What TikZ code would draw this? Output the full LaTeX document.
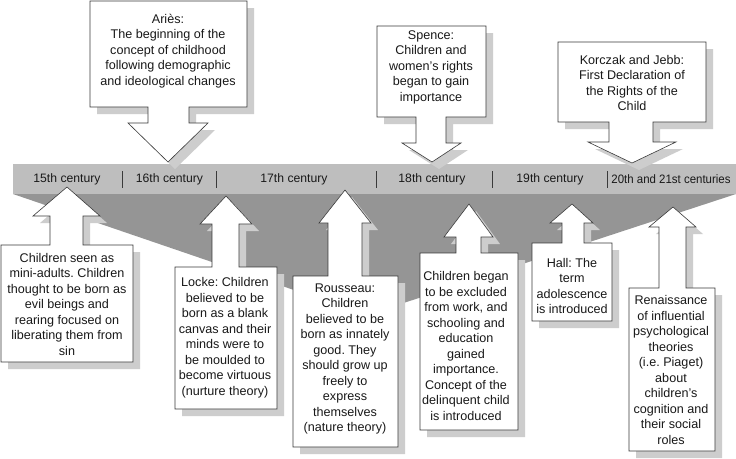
\documentclass[tikz,border=0pt]{standalone}
\usepackage{fontspec}
\setmainfont{Liberation Sans}
\frenchspacing
\definecolor{barc}{HTML}{BEBEBE}
\definecolor{darkc}{HTML}{959595}
\definecolor{shadowc}{HTML}{CDCDCD}
\definecolor{linec}{HTML}{3A3A3A}
\newcommand{\callshape}[1]{\fill[shadowc,shift={(7,7)}] #1; \filldraw[callc] #1;}
\begin{document}
\begin{tikzpicture}[x=1pt,y=-1pt,
  callc/.style={fill=white,draw=linec,line width=0.6pt,line join=miter},
  txt/.style={align=center,inner sep=0pt,font=\fontsize{12.6}{15.5}\selectfont\frenchspacing,text=black!90},
  barlbl/.style={inner sep=0pt,font=\fontsize{12.2}{14}\selectfont,text=black!90},
  sepline/.style={draw=linec,line width=0.7pt}]
\useasboundingbox (0,0) rectangle (736,458);
\fill[white] (0,0) rectangle (736,458);
% timeline bar and wedge
\fill[barc] (13,164) rectangle (736,194);
\fill[darkc] (13,194) -- (736,194) -- (367,315) -- cycle;
% top callouts
\callshape{(90,1) -- (247,1) -- (247,107) -- (189,107) -- (189,123) -- (208,123) -- (168,162) -- (128,123) -- (148,123) -- (148,107) -- (90,107) -- cycle}
\callshape{(377,26) -- (486,26) -- (486,117) -- (446,117) -- (446,143) -- (461,143) -- (432,162) -- (402,143) -- (416,143) -- (416,117) -- (377,117) -- cycle}
\callshape{(558,42) -- (706,42) -- (706,122) -- (653,122) -- (653,142) -- (676,142) -- (632,163) -- (588,142) -- (609,142) -- (609,122) -- (558,122) -- cycle}
% bottom callouts
\callshape{(67,187) -- (100,216) -- (83,216) -- (83,245) -- (133,245) -- (133,362) -- (1,362) -- (1,245) -- (50,245) -- (50,216) -- (33,216) -- cycle}
\callshape{(226,196) -- (252,224) -- (239,224) -- (239,267) -- (277,267) -- (277,409) -- (175,409) -- (175,267) -- (212,267) -- (212,224) -- (200,224) -- cycle}
\callshape{(345,190) -- (371,223) -- (362,223) -- (362,276) -- (398,276) -- (398,447) -- (293,447) -- (293,276) -- (328,276) -- (328,223) -- (319,223) -- cycle}
\callshape{(469,204) -- (493,237) -- (481,237) -- (481,253) -- (518,253) -- (518,430) -- (420,430) -- (420,253) -- (456,253) -- (456,237) -- (444,237) -- cycle}
\callshape{(572,204) -- (593,223) -- (584,223) -- (584,243) -- (612,243) -- (612,321) -- (532,321) -- (532,243) -- (562,243) -- (562,223) -- (550,223) -- cycle}
\callshape{(673,207) -- (696,227) -- (686,227) -- (686,288) -- (715,288) -- (715,451) -- (629,451) -- (629,288) -- (659,288) -- (659,227) -- (649,227) -- cycle}
% bar labels and separators
\node[barlbl] (c15) at (67,179) {15th century};
\node[barlbl] (c16) at (169.5,179) {16th century};
\node[barlbl] (c17) at (294,179) {17th century};
\node[barlbl] (c18) at (432,179) {18th century};
\node[barlbl] (c19) at (550,179) {19th century};
\node[barlbl] (c20) at (671,179) {\scalebox{0.94}[1]{20th and 21st centuries}};
\foreach \sx in {122,216,376,492,607} \draw[sepline] (\sx,171) -- (\sx,188);
% texts
\node[txt] (aries) at (168,51) {Ariès:\\The beginning of the\\concept of childhood\\following demographic\\and ideological changes};
\node[txt] (spence) at (431,67) {Spence:\\Children and\\women’s rights\\began to gain\\importance};
\node[txt] (korczak) at (632,83) {Korczak and Jebb:\\First Declaration of\\the Rights of the\\Child};
\node[txt] (c15t) at (67,304) {Children seen as\\mini-adults. Children\\thought to be born as\\evil beings and\\rearing focused on\\liberating them from\\sin};
\node[txt] (locke) at (225,337.5) {Locke: Children\\believed to be\\born as a blank\\canvas and their\\minds were to\\be moulded to\\become virtuous\\(nurture theory)};
\node[txt] (rousseau) at (345,359) {Rousseau:\\Children\\believed to be\\born as innately\\good. They\\should grow up\\freely to\\express\\themselves\\(nature theory)};
\node[txt] (c18t) at (466,346) {Children began\\to be excluded\\from work, and\\schooling and\\education\\gained\\importance.\\Concept of the\\delinquent child\\is introduced};
\node[txt] (hall) at (572,286) {Hall: The\\term\\adolescence\\is introduced};
\node[txt] (renais) at (671,370) {Renaissance\\of influential\\psychological\\theories\\(i.e. Piaget)\\about\\children’s\\cognition and\\their social\\roles};
\end{tikzpicture}
\end{document}
